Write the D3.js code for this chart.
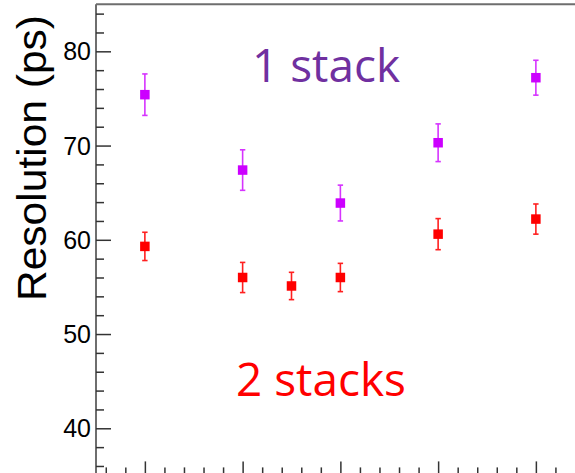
<!DOCTYPE html>
<html>
<head>
<meta charset="utf-8">
<script src="https://cdn.jsdelivr.net/npm/d3@7"></script>
<style>
  html, body { margin: 0; padding: 0; background: #fff; overflow: hidden; }
  svg { display: block; }
</style>
</head>
<body>
<script>
// ---- data ----
const oneStackX = [1, 2, 3, 4, 5];
const oneStackY = [75.4, 67.4, 63.9, 70.3, 77.2];
const oneStackErr = [2.2, 2.15, 1.9, 2.0, 1.85];

const twoStackX = [1, 2, 2.5, 3, 4, 5];
const twoStackY = [59.3, 56.0, 55.1, 56.0, 60.6, 62.2];
const twoStackErr = [1.5, 1.6, 1.45, 1.5, 1.65, 1.6];

const yMajorTicks = [40, 50, 60, 70, 80];
const yTickLabels = ["40", "50", "60", "70", "80"];
const yTitle = "Resolution (ps)";
const label1 = "1 stack";
const label2 = "2 stacks";

// ---- layout ----
const W = 575, H = 473;
const svg = d3.select("body").append("svg").attr("width", W).attr("height", H);

const x = d3.scaleLinear().domain([0.5, 5.5]).range([96, 584.75]);
const y = d3.scaleLinear().domain([35, 85]).range([475.4, 4.2]);

const axisCol = "#6e6e6e";
const tickCol = "#333";

// frame lines (left axis + top)
svg.append("line").attr("x1", x(0.5)).attr("x2", W + 5)
  .attr("y1", y(85)).attr("y2", y(85))
  .attr("stroke", axisCol).attr("stroke-width", 2);
svg.append("line").attr("x1", x(0.5)).attr("x2", x(0.5))
  .attr("y1", y(85)).attr("y2", y(35))
  .attr("stroke", axisCol).attr("stroke-width", 2);
svg.append("line").attr("x1", x(0.5)).attr("x2", W + 5)
  .attr("y1", y(35)).attr("y2", y(35))
  .attr("stroke", axisCol).attr("stroke-width", 2);

// y ticks (inward, to the right)
const yMinor = d3.range(36, 85, 2).filter(v => !yMajorTicks.includes(v));
const yAxisMaj = d3.axisRight(y).tickValues(yMajorTicks).tickSize(15).tickFormat("");
const yAxisMin = d3.axisRight(y).tickValues(yMinor).tickSize(8).tickFormat("");
[yAxisMaj, yAxisMin].forEach(ax => {
  const g = svg.append("g").attr("transform", `translate(${x(0.5)},0)`).call(ax);
  g.select(".domain").remove();
  g.selectAll(".tick line").attr("stroke", tickCol).attr("stroke-width", 1.5);
});

// y tick labels
svg.append("g").selectAll("text").data(yMajorTicks).join("text")
  .attr("x", 91).attr("y", d => y(d)).attr("dy", "0.36em")
  .attr("text-anchor", "end")
  .attr("font-family", "Liberation Sans, Arial, sans-serif")
  .attr("font-size", 25).attr("fill", "#000")
  .text((d, i) => yTickLabels[i]);

// x ticks (inward, upward)
const xMajor = [1, 2, 3, 4, 5];
const xMinor = d3.range(0.6, 5.3, 0.2).map(v => +v.toFixed(1)).filter(v => !xMajor.includes(v));
const xAxisMaj = d3.axisTop(x).tickValues(xMajor).tickSize(14).tickFormat("");
const xAxisMin = d3.axisTop(x).tickValues(xMinor).tickSize(8).tickFormat("");
[xAxisMaj, xAxisMin].forEach(ax => {
  const g = svg.append("g").attr("transform", `translate(0,${y(35)})`).call(ax);
  g.select(".domain").remove();
  g.selectAll(".tick line").attr("stroke", tickCol).attr("stroke-width", 1.5);
});

// y title
svg.append("text")
  .attr("transform", `translate(45.5,301) rotate(-90)`)
  .attr("text-anchor", "start")
  .attr("font-family", "Liberation Sans, Arial, sans-serif")
  .attr("font-size", 40)
  .attr("textLength", 286).attr("lengthAdjust", "spacingAndGlyphs")
  .attr("fill", "#000")
  .text(yTitle);

// series drawing
function drawSeries(xs, ys, es, col, barCol) {
  const g = svg.append("g");
  const data = xs.map((d, i) => ({ x: d, y: ys[i], e: es[i] }));
  const cap = 2.7;
  g.selectAll(".eb").data(data).join("line")
    .attr("x1", d => x(d.x)).attr("x2", d => x(d.x))
    .attr("y1", d => y(d.y + d.e)).attr("y2", d => y(d.y - d.e))
    .attr("stroke", barCol).attr("stroke-width", 1.6);
  g.selectAll(".ct").data(data).join("line")
    .attr("x1", d => x(d.x) - cap).attr("x2", d => x(d.x) + cap)
    .attr("y1", d => y(d.y + d.e)).attr("y2", d => y(d.y + d.e))
    .attr("stroke", barCol).attr("stroke-width", 1.6);
  g.selectAll(".cb").data(data).join("line")
    .attr("x1", d => x(d.x) - cap).attr("x2", d => x(d.x) + cap)
    .attr("y1", d => y(d.y - d.e)).attr("y2", d => y(d.y - d.e))
    .attr("stroke", barCol).attr("stroke-width", 1.6);
  const s = 9.5;
  g.selectAll("rect").data(data).join("rect")
    .attr("x", d => x(d.x) - s / 2).attr("y", d => y(d.y) - s / 2)
    .attr("width", s).attr("height", s).attr("fill", col);
}
drawSeries(oneStackX, oneStackY, oneStackErr, "#cc00ff", "#d633ff");
drawSeries(twoStackX, twoStackY, twoStackErr, "#ff0000", "#ff2020");

// labels
svg.append("text").attr("x", 252).attr("y", 82.3)
  .attr("font-family", "Open Sans, sans-serif").attr("font-size", 45)
  .attr("textLength", 148).attr("lengthAdjust", "spacingAndGlyphs")
  .attr("fill", "#7030a0").text(label1);
svg.append("text").attr("x", 236).attr("y", 395.7)
  .attr("font-family", "Open Sans, sans-serif").attr("font-size", 45)
  .attr("textLength", 170).attr("lengthAdjust", "spacingAndGlyphs")
  .attr("fill", "#ff0000").text(label2);
</script>
</body>
</html>
